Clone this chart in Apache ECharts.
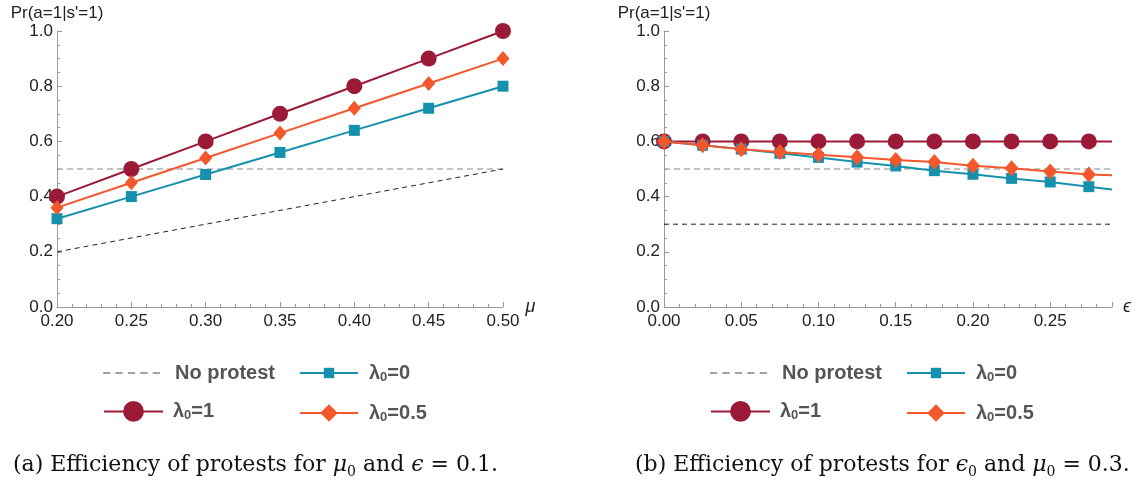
<!DOCTYPE html>
<html>
<head>
<meta charset="utf-8">
<script src="https://cdn.jsdelivr.net/npm/echarts@6/dist/echarts.min.js"></script>
<style>
  html, body { margin: 0; padding: 0; background: #fff; }
  #main { width: 1138px; height: 481px; }
</style>
</head>
<body>
<div id="main"></div>
<script>
// panel (a): x = mu0, epsilon = 0.1
var muX = [0.20, 0.25, 0.30, 0.35, 0.40, 0.45, 0.50];
var muLam1 = [0.40, 0.50, 0.60, 0.70, 0.80, 0.90, 1.00];
var muLam05 = [0.36, 0.45, 0.54, 0.63, 0.72, 0.81, 0.90];
var muLam0 = [0.32, 0.40, 0.48, 0.56, 0.64, 0.72, 0.80];
var muNoProtestX = [0.20, 0.50];
var muNoProtest = [0.20, 0.50];

// panel (b): x = epsilon0, mu0 = 0.3
var epsX = [0, 0.025, 0.05, 0.075, 0.1, 0.125, 0.15, 0.175, 0.2, 0.225, 0.25, 0.275];
var epsLam1 = [0.60, 0.60, 0.60, 0.60, 0.60, 0.60, 0.60, 0.60, 0.60, 0.60, 0.60, 0.60];
var epsLam05 = [0.600, 0.586, 0.572, 0.562, 0.552, 0.543, 0.533, 0.525, 0.512, 0.503, 0.491, 0.480];
var epsLam0 = [0.600, 0.586, 0.572, 0.557, 0.542, 0.525, 0.511, 0.494, 0.481, 0.466, 0.453, 0.436];
// the curves run on past the last marker to the edge of the plot
var epsEdge = 0.29;
var epsEdgeLam1 = 0.60, epsEdgeLam05 = 0.477, epsEdgeLam0 = 0.426;
var epsNoProtestX = [0, 0.29];
var epsNoProtest = [0.30, 0.30];

var refLevel = 0.5;
var yTicks = ['0.0', '0.2', '0.4', '0.6', '0.8', '1.0'];

var RED = '#9b1a37', TEAL = '#1591ad', ORANGE = '#f4572b';
var SANS = "'Liberation Sans', Arial, sans-serif";
var SERIF = "'DejaVu Serif', 'Liberation Serif', serif";

function pairs(xs, ys) {
  return xs.map(function (x, i) { return [x, ys[i]]; });
}
function withEdge(xs, ys, ex, ey) {
  var d = pairs(xs, ys);
  d.push({ value: [ex, ey], symbol: 'none' });
  return d;
}

function xAxisFor(idx, min, max, name) {
  return {
    type: 'value', gridIndex: idx, min: min, max: max, interval: 0.05,
    name: name, nameLocation: 'end', nameGap: 11,
    nameTextStyle: { fontFamily: SANS, fontStyle: 'italic', fontSize: 18, color: '#222' },
    axisLine: { lineStyle: { color: '#999', width: 1 } },
    axisTick: { inside: true, length: 5, lineStyle: { color: '#999' } },
    minorTick: { show: true, splitNumber: 5, length: 3, lineStyle: { color: '#999' } },
    splitLine: { show: false },
    axisLabel: {
      margin: 6, fontFamily: SANS, fontSize: 17, color: '#222',
      formatter: function (v) {
        var k = v / 0.05;
        return Math.abs(k - Math.round(k)) < 1e-6 ? v.toFixed(2) : '';
      }
    }
  };
}
function yAxisFor(idx) {
  return {
    type: 'value', gridIndex: idx, min: 0, max: 1, interval: 0.2,
    name: "Pr(a=1|s'=1)", nameLocation: 'end', nameGap: 9,
    nameTextStyle: { fontFamily: SANS, fontSize: 17, color: '#222' },
    axisLine: { show: true, lineStyle: { color: '#999', width: 1 } },
    axisTick: { show: true, inside: true, length: 5, lineStyle: { color: '#999' } },
    minorTick: { show: true, splitNumber: 4, length: 3, lineStyle: { color: '#999' } },
    splitLine: { show: false },
    axisLabel: {
      margin: 4, fontFamily: SANS, fontSize: 17, color: '#222',
      formatter: function (v) { return yTicks[Math.round(v / 0.2)]; }
    }
  };
}

function refSeries(idx, x0, x1) {
  return {
    name: 'ref', type: 'line', xAxisIndex: idx, yAxisIndex: idx,
    data: [[x0, refLevel], [x1, refLevel]], symbol: 'none', silent: true,
    lineStyle: { color: '#888', width: 1, type: [6, 4] }, z: 1
  };
}

var series = [
  refSeries(0, 0.2, 0.5),
  { name: 'No protest', type: 'line', xAxisIndex: 0, yAxisIndex: 0,
    data: pairs(muNoProtestX, muNoProtest), symbol: 'none',
    itemStyle: { color: '#222' }, lineStyle: { color: '#222', width: 1, type: [5, 4] }, z: 2 },
  { name: 'λ0=1', type: 'line', xAxisIndex: 0, yAxisIndex: 0, data: pairs(muX, muLam1),
    symbol: 'circle', symbolSize: 16, itemStyle: { color: RED }, lineStyle: { width: 2 }, z: 3 },
  { name: 'λ0=0', type: 'line', xAxisIndex: 0, yAxisIndex: 0, data: pairs(muX, muLam0),
    symbol: 'rect', symbolSize: 11, itemStyle: { color: TEAL }, lineStyle: { width: 2 }, z: 4 },
  { name: 'λ0=0.5', type: 'line', xAxisIndex: 0, yAxisIndex: 0, data: pairs(muX, muLam05),
    symbol: 'diamond', symbolSize: [13, 15], itemStyle: { color: ORANGE }, lineStyle: { width: 2 }, z: 5 },

  refSeries(1, 0, 0.29),
  { name: 'No protest', type: 'line', xAxisIndex: 1, yAxisIndex: 1,
    data: pairs(epsNoProtestX, epsNoProtest), symbol: 'none',
    itemStyle: { color: '#222' }, lineStyle: { color: '#222', width: 1, type: [5, 4] }, z: 2 },
  { name: 'λ0=1', type: 'line', xAxisIndex: 1, yAxisIndex: 1,
    data: withEdge(epsX, epsLam1, epsEdge, epsEdgeLam1),
    symbol: 'circle', symbolSize: 16, itemStyle: { color: RED }, lineStyle: { width: 2 }, z: 3 },
  { name: 'λ0=0', type: 'line', xAxisIndex: 1, yAxisIndex: 1,
    data: withEdge(epsX, epsLam0, epsEdge, epsEdgeLam0),
    symbol: 'rect', symbolSize: 11, itemStyle: { color: TEAL }, lineStyle: { width: 2 }, z: 4 },
  { name: 'λ0=0.5', type: 'line', xAxisIndex: 1, yAxisIndex: 1,
    data: withEdge(epsX, epsLam05, epsEdge, epsEdgeLam05),
    symbol: 'diamond', symbolSize: [14, 16], itemStyle: { color: ORANGE }, lineStyle: { width: 2 }, z: 5 }
];

var legendRich = {
  t: { fontFamily: SANS, fontSize: 20, fontWeight: 'bold', color: '#555', lineHeight: 22 },
  s: { fontFamily: SANS, fontSize: 13, fontWeight: 'bold', color: '#555', lineHeight: 22, verticalAlign: 'bottom' }
};
function legendLabel(name) {
  if (name.charAt(0) !== 'λ') return '{t|' + name + '}';
  return '{t|λ}{s|0}{t|' + name.slice(2) + '}';
}
var dashIcon = 'path://M0,0h7v1.2h-7z M12,0h7v1.2h-7z M24,0h7v1.2h-7z M36,0h7v1.2h-7z M48,0h7v1.2h-7z';

// one legend per entry so each sits where the reference puts it
function legendItem(name, left, top, w, h, gap, icon) {
  var item = { name: name };
  if (icon) { item.icon = icon; item.itemStyle = { color: '#444' }; }
  return {
    data: [item], left: left, top: top, padding: 0, itemWidth: w, itemHeight: h,
    selectedMode: false, formatter: legendLabel,
    textStyle: { rich: legendRich, padding: [0, 0, 0, gap] }
  };
}
var legends = [];
[0, 607].forEach(function (dx) {
  legends.push(legendItem('No protest', 103 + dx, 363, 57, 22, 10, dashIcon));
  legends.push(legendItem('λ0=0', 299 + dx, 363, 58, 13, 6));
  legends.push(legendItem('λ0=1', 103 + dx, 401, 59, 26, 5));
  legends.push(legendItem('λ0=0.5', 299 + dx, 403, 58, 22, 6));
});

var capRich = {
  t: { fontFamily: SERIF, fontSize: 22, fontWeight: 'normal', color: '#111' },
  i: { fontFamily: SERIF, fontSize: 22, fontWeight: 'normal', fontStyle: 'italic', color: '#111' },
  s: { fontFamily: SERIF, fontSize: 14, fontWeight: 'normal', color: '#111', verticalAlign: 'bottom', lineHeight: 27 }
};

var chart = echarts.init(document.getElementById('main'));
chart.setOption({
  animation: false,
  grid: [
    { left: 57, top: 31, width: 446, height: 276 },
    { left: 664, top: 31, width: 448, height: 276 }
  ],
  xAxis: [xAxisFor(0, 0.2, 0.5, 'μ'), xAxisFor(1, 0, 0.29, 'ϵ')],
  yAxis: [yAxisFor(0), yAxisFor(1)],
  legend: legends,
  title: [
    { left: 8, top: 447, text: '{t|(a) Efficiency of protests for }{i|μ}{s|0}{t| and }{i|ϵ}{t| = 0.1.}',
      textStyle: { fontWeight: 'normal', rich: capRich } },
    { left: 630, top: 447, text: '{t|(b) Efficiency of protests for }{i|ϵ}{s|0}{t| and }{i|μ}{s|0}{t| = 0.3.}',
      textStyle: { fontWeight: 'normal', rich: capRich } }
  ],
  series: series
});
</script>
</body>
</html>
